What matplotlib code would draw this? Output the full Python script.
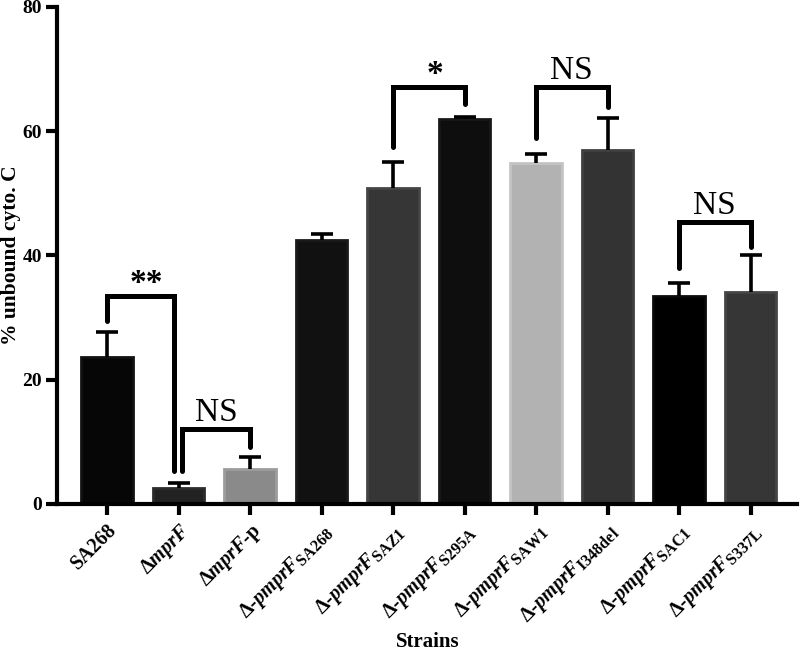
import numpy as np
import matplotlib
matplotlib.use("Agg")
import matplotlib.pyplot as plt
import matplotlib._mathtext as mt

plt.rcParams["font.family"] = ["Liberation Serif", "DejaVu Serif"]
plt.rcParams["mathtext.fontset"] = "custom"
plt.rcParams["mathtext.rm"] = "Liberation Serif"
plt.rcParams["mathtext.bf"] = "Liberation Serif:bold"
plt.rcParams["mathtext.it"] = "Liberation Serif:italic"
plt.rcParams["mathtext.bfit"] = "Liberation Serif:italic:bold"
# subscripts in the original are only a bit smaller than the main text
mt.SHRINK_FACTOR = 0.8

# strains (tick labels)
strains = [
    "SA268",
    "Δ$\\mathbfit{mprF}$",
    "Δ$\\mathbfit{mprF}$-p",
    "Δ-$\\mathbfit{pmprF}_{\\mathbf{SA268}}$",
    "Δ-$\\mathbfit{pmprF}_{\\mathbf{SAZ1}}$",
    "Δ-$\\mathbfit{pmprF}_{\\mathbf{S295A}}$",
    "Δ-$\\mathbfit{pmprF}_{\\mathbf{SAW1}}$",
    "Δ-$\\mathbfit{pmprF}_{\\mathbf{I348del}}$",
    "Δ-$\\mathbfit{pmprF}_{\\mathbf{SAC1}}$",
    "Δ-$\\mathbfit{pmprF}_{\\mathbf{S337L}}$",
]
unbound = [23.7, 2.5, 5.6, 42.5, 50.9, 62.0, 54.8, 56.9, 33.4, 34.1]
sem = [3.9, 0.9, 2.0, 1.0, 4.1, 0.3, 1.5, 5.2, 2.2, 5.9]

bar_colors = ["#060606", "#222222", "#8a8a8a", "#111111", "#363636",
              "#0e0e0e", "#b2b2b2", "#333333", "#000000", "#363636"]
edge_colors = ["#111111", "#2c2c2c", "#9c9c9c", "#1a1a1a", "#454545",
               "#181818", "#c4c4c4", "#404040", "#0a0a0a", "#454545"]

# significance brackets: bars compared, leg bottoms, bracket top, label
sig_pairs = [(0, 1), (1, 2), (4, 5), (6, 7), (8, 9)]
sig_left = [29.5, 5.3, 57.4, 58.9, 38.0]
sig_top = [33.4, 12.0, 67.1, 67.1, 45.3]
sig_right = [5.2, 9.2, 64.4, 63.9, 41.3]
sig_text = ["**", "NS", "*", "NS", "NS"]

fig = plt.figure(figsize=(8, 6.53), dpi=100)
ax = fig.add_axes([0.0713, 0.2285, 0.925, 0.761])

x = np.arange(len(strains))
ax.bar(x, unbound, width=0.72, color=bar_colors, edgecolor=edge_colors, linewidth=2, zorder=2)
eb = ax.errorbar(x, unbound, yerr=[np.zeros(len(sem)), sem], fmt="none", ecolor="black",
                 elinewidth=2.6, capsize=8, capthick=2.6, zorder=3)
# only the upper cap is shown
eb[1][0].set_visible(False)

for (a, b), yl, yt, yr, t in zip(sig_pairs, sig_left, sig_top, sig_right, sig_text):
    xa, xb = a, b
    # legs meeting on the same bar get nudged apart
    if a == 1:
        xa = a + 0.05
    if b == 1:
        xb = b - 0.07
    ax.plot([xa, xa, xb, xb], [yl, yt, yt, yr], color="black", lw=3.6,
            solid_capstyle="round", solid_joinstyle="miter", zorder=4)
    xm = (xa + xb) / 2
    if "*" in t:
        ax.text(xm + 0.08, yt + 2.0, t, ha="center", va="center", fontsize=24,
                fontweight="bold")
    else:
        ax.text(xm, yt + 1.3, t, ha="center", va="baseline", fontsize=24)

ax.set_xlim(-0.7, 9.65)
ax.set_ylim(0, 80)
ax.set_yticks([0, 20, 40, 60, 80])
ax.set_xticks(x)
ax.set_xticklabels(strains, rotation=45, ha="right", va="top", rotation_mode="anchor",
                   fontsize=14.5, fontweight="bold")
for lab in ax.get_yticklabels():
    lab.set_fontweight("bold")
    lab.set_fontsize(14)

ax.spines["top"].set_visible(False)
ax.spines["right"].set_visible(False)
ax.spines["left"].set_linewidth(3)
ax.spines["bottom"].set_linewidth(3)
ax.tick_params(axis="both", width=3, length=8, pad=3)
ax.tick_params(axis="x", pad=4)

ax.set_ylabel("% unbound cyto. C", fontsize=15.5, fontweight="bold", labelpad=1)
fig.text(0.535, 0.001, "Strains", ha="center", va="bottom", fontsize=15, fontweight="bold")

fig.savefig("out.png", dpi=100)
